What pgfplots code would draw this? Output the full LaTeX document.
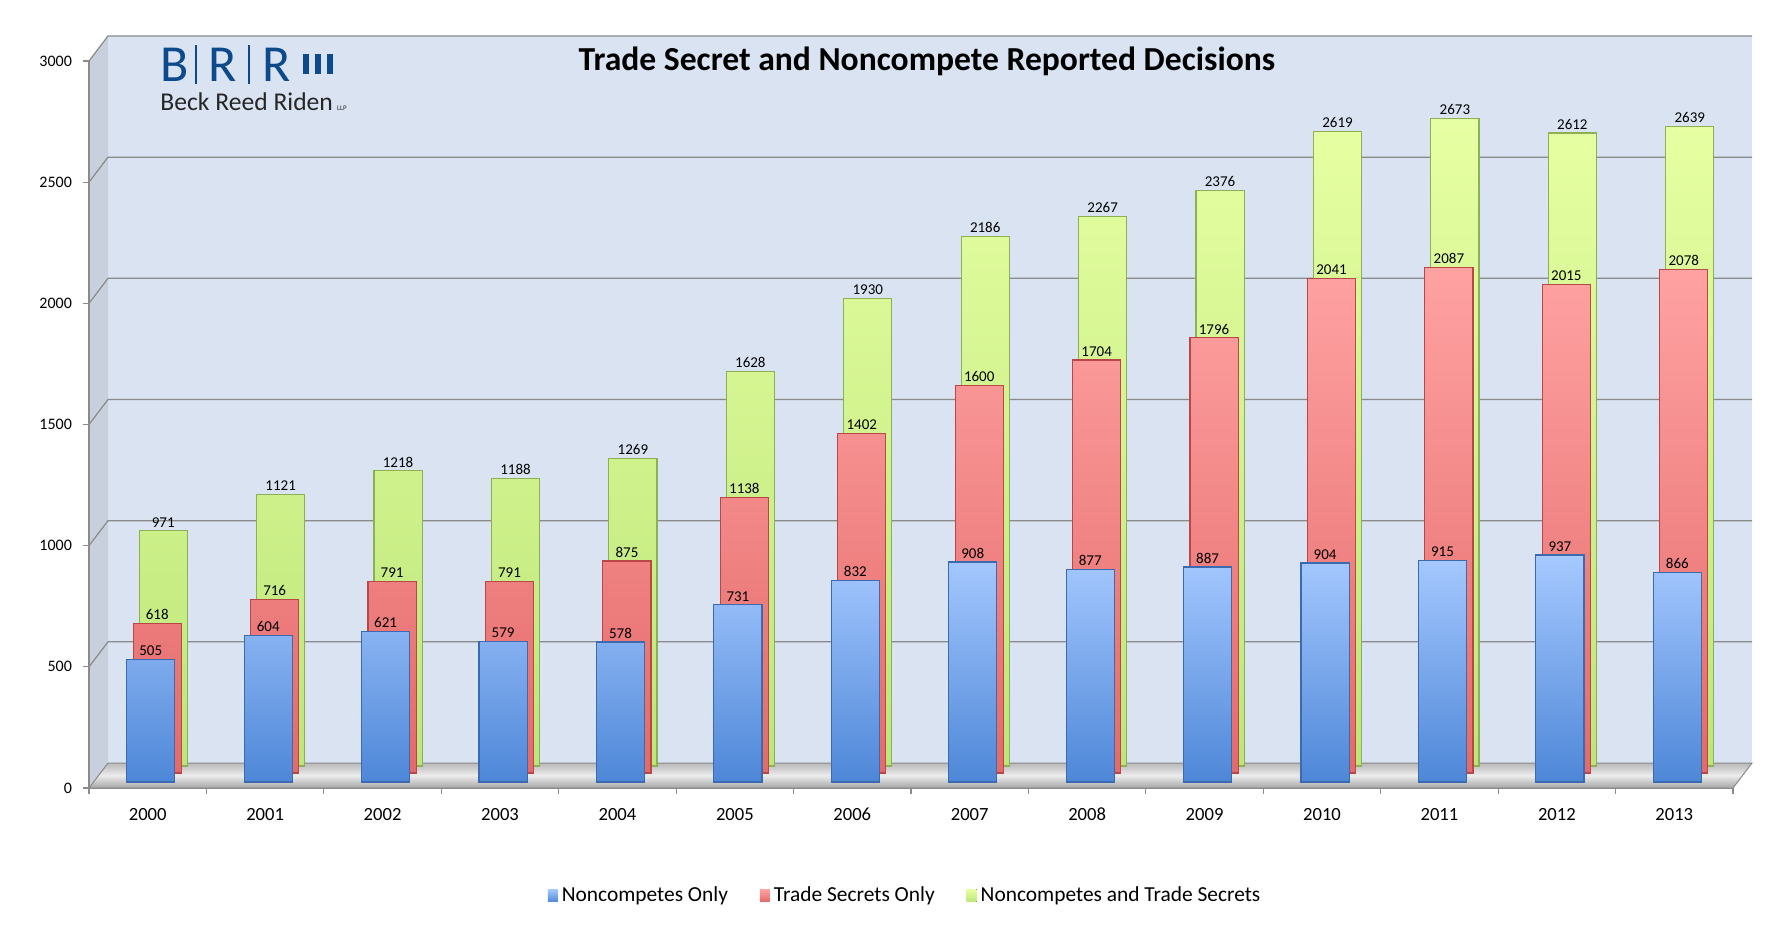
\documentclass[border=0pt]{standalone}
\usepackage{pgfplots}
\pgfplotsset{compat=1.18}
\usepackage{fontspec}
\setmainfont{Carlito}
\definecolor{wallc}{HTML}{D9E3F2}
\definecolor{sidec}{HTML}{C7D0DC}
\definecolor{gridc}{HTML}{8A8A8A}
\definecolor{brrblue}{HTML}{0D4A8C}
\definecolor{blueT}{HTML}{A6C9FF}
\definecolor{blueB}{HTML}{4E87D8}
\definecolor{blueE}{HTML}{3C6AAE}
\definecolor{redT}{HTML}{FFA2A2}
\definecolor{redB}{HTML}{E46A6A}
\definecolor{redE}{HTML}{B94747}
\definecolor{grnT}{HTML}{E6FFA2}
\definecolor{grnB}{HTML}{BDE67A}
\definecolor{grnE}{HTML}{8DAF55}
\pgfplotstableread{
x nc ts both
0 505 618 971
1 604 716 1121
2 621 791 1218
3 579 791 1188
4 578 875 1269
5 731 1138 1628
6 832 1402 1930
7 908 1600 2186
8 877 1704 2267
9 887 1796 2376
10 904 2041 2619
11 915 2087 2673
12 937 2015 2612
13 866 2078 2639
}\datatable
\begin{document}
\begin{tikzpicture}
\useasboundingbox (0,0) rectangle (891.5pt,464pt);
\begin{axis}[
  at={(44.5pt,70pt)}, anchor=south west,
  scale only axis, width=822pt, height=363.5pt,
  xmin=-0.5, xmax=13.5, ymin=0, ymax=3000,
  clip=false,
  axis x line*=bottom, axis y line*=left,
  axis line style={-, draw=gridc, line width=0.6pt},
  xtick={-0.5,0.5,...,13.5},
  x tick label as interval,
  xticklabels={2000,2001,2002,2003,2004,2005,2006,2007,2008,2009,2010,2011,2012,2013},
  ytick={0,500,1000,1500,2000,2500,3000},
  tick align=outside, major tick length=3pt,
  tick style={draw=gridc, line width=0.6pt},
  /pgf/number format/.cd, 1000 sep={}, assume math mode=true, /pgfplots/.cd,
  yticklabel style={font=\fontsize{8}{9.5}\selectfont, xshift=-2pt},
  xticklabel style={font=\fontsize{9.3}{11}\selectfont, yshift=-3.5pt},
  ybar, bar width=0.41,
  nodes near coords,
  nodes near coords style={font=\fontsize{7.5}{9}\selectfont, text=black, anchor=south, inner sep=1.5pt},
  legend columns=-1,
  legend style={at={(0.497,-0.148)}, anchor=center, draw=none, fill=none,
    font=\fontsize{10.7}{12}\selectfont,
    /tikz/every even column/.append style={column sep=14pt}},
  legend image code/.code={\fill[#1, draw=none] (0pt,-3.2pt) rectangle (5pt,3.2pt);},
]
% walls and floor
\fill[wallc] ([shift={(9.5pt,12.5pt)}]axis cs:-0.5,0) rectangle ([shift={(9.5pt,12.5pt)}]axis cs:13.5,3000);
\fill[sidec] (axis cs:-0.5,0) -- (axis cs:-0.5,3000) -- ([shift={(9.5pt,12.5pt)}]axis cs:-0.5,3000) -- ([shift={(9.5pt,12.5pt)}]axis cs:-0.5,0) -- cycle;
\shade[top color=gray!55, bottom color=gray!70, middle color=gray!15, draw=gridc, line width=0.5pt] (axis cs:-0.5,0) -- (axis cs:13.5,0) -- ([shift={(9.5pt,12.5pt)}]axis cs:13.5,0) -- ([shift={(9.5pt,12.5pt)}]axis cs:-0.5,0) -- cycle;
\pgfplotsinvokeforeach{500,1000,1500,2000,2500,3000}{
  \draw[gridc, line width=0.6pt] (axis cs:-0.5,#1) -- ([shift={(9.5pt,12.5pt)}]axis cs:-0.5,#1) -- ([shift={(9.5pt,12.5pt)}]axis cs:13.5,#1);
}
\draw[gridc, line width=0.6pt] (axis cs:-0.5,0) -- (axis cs:-0.5,3000);
% legend
\addlegendimage{top color=blueT, bottom color=blueB}
\addlegendentry{Noncompetes Only}
\addlegendimage{top color=redT, bottom color=redB}
\addlegendentry{Trade Secrets Only}
\addlegendimage{top color=grnT, bottom color=grnB}
\addlegendentry{Noncompetes and Trade Secrets}
% bars, back to front
\addplot[forget plot, bar shift=0.132, yshift=11pt, top color=grnT, bottom color=grnB, draw=grnE, line width=0.6pt] table[x=x, y=both] {\datatable};
\addplot[forget plot, bar shift=0.081, yshift=7.5pt, top color=redT, bottom color=redB, draw=redE, line width=0.6pt] table[x=x, y=ts] {\datatable};
\addplot[forget plot, bar shift=0.026, yshift=3pt, top color=blueT, bottom color=blueB, draw=blueE, line width=0.6pt] table[x=x, y=nc] {\datatable};
\end{axis}
% title
\node[font=\bfseries\fontsize{16.8}{20}\selectfont] at (463.5pt,433.5pt) {Trade Secret and Noncompete Reported Decisions};
% logo
\node[anchor=base west, inner sep=0pt, text=brrblue, font=\fontsize{26}{28}\selectfont] at (80pt,423pt) {B};
\fill[brrblue] (97.5pt,422pt) rectangle (98.5pt,441.5pt);
\node[anchor=base west, inner sep=0pt, text=brrblue, font=\fontsize{26}{28}\selectfont] at (104pt,423pt) {R};
\fill[brrblue] (124pt,422pt) rectangle (125pt,441.5pt);
\node[anchor=base west, inner sep=0pt, text=brrblue, font=\fontsize{26}{28}\selectfont] at (131pt,423pt) {R};
\fill[brrblue] (151.5pt,427pt) rectangle (154.5pt,437pt);
\fill[brrblue] (157.5pt,427pt) rectangle (160.5pt,437pt);
\fill[brrblue] (163.5pt,427pt) rectangle (166.5pt,437pt);
\node[anchor=base west, inner sep=0pt, text=black!85, font=\fontsize{12.8}{15}\selectfont] at (80pt,408.5pt) {Beck Reed Riden\,{\fontsize{3.5}{4}\selectfont LLP}};
\end{tikzpicture}
\end{document}
